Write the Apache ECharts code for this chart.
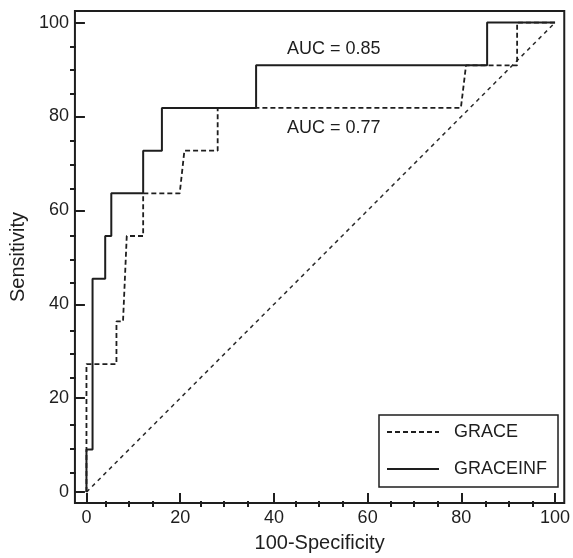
<!DOCTYPE html>
<html>
<head>
<meta charset="utf-8">
<script src="https://cdn.jsdelivr.net/npm/echarts@6/dist/echarts.min.js"></script>
<style>
  html, body { margin: 0; padding: 0; background: #fff; }
  #chart { width: 573px; height: 558px; }
</style>
</head>
<body>
<div id="chart"></div>
<script>
// ---- data ----
const graceInfX = [0, 0, 1.3, 1.3, 4.0, 4.0, 5.3, 5.3, 12.1, 12.1, 16.1, 16.1, 36.2, 36.2, 85.5, 85.5, 100];
const graceInfY = [0, 9.09, 9.09, 45.45, 45.45, 54.55, 54.55, 63.64, 63.64, 72.73, 72.73, 81.82, 81.82, 90.91, 90.91, 100, 100];
const graceX = [0, 0, 6.4, 6.4, 7.8, 8.6, 12.1, 12.1, 19.9, 20.9, 28.0, 28.0, 79.9, 81.0, 91.9, 91.9, 100];
const graceY = [0, 27.27, 27.27, 36.36, 36.36, 54.55, 54.55, 63.64, 63.64, 72.73, 72.73, 81.82, 81.82, 90.91, 90.91, 100, 100];
const refX = [0, 100];
const refY = [0, 100];
const seriesNames = ['GRACE', 'GRACEINF'];
const aucText = ['AUC = 0.85', 'AUC = 0.77'];
const aucX = [42.8, 42.8];
const aucY = [94.4, 77.5];
const majorTicks = [0, 20, 40, 60, 80, 100];
const minorTicks = [5, 10, 15, 25, 30, 35, 45, 50, 55, 65, 70, 75, 85, 90, 95];
const xRange = [-2.46, 101.96];
const yRange = [-2.32, 102.47];
const xName = '100-Specificity';
const yName = 'Sensitivity';

// ---- chart ----
const FONT = '"Liberation Sans", Arial, Helvetica, sans-serif';
const INK = '#1e1e1e';
const zip = (xs, ys) => xs.map((x, i) => [x, ys[i]]);

const gridRect = { left: 70, right: 7, top: 11, bottom: 51 };

function majorAxis(range, name, isX) {
  return {
    type: 'value', gridIndex: 0, min: range[0], max: range[1],
    axisLine: { show: false, onZero: false },
    splitLine: { show: false },
    axisTick: { show: true, inside: true, length: 10, customValues: majorTicks,
      lineStyle: { color: INK, width: 2 } },
    axisLabel: { show: true, customValues: majorTicks, fontSize: 18, color: INK,
      fontFamily: FONT, margin: 6 },
    name: name, nameLocation: 'middle', nameGap: isX ? 30 : 43,
    nameTextStyle: { fontSize: 20, color: INK, fontFamily: FONT }
  };
}
function minorAxis(range) {
  return {
    type: 'value', gridIndex: 1, min: range[0], max: range[1],
    axisLine: { show: false, onZero: false },
    splitLine: { show: false },
    axisTick: { show: true, inside: true, length: 6, customValues: minorTicks,
      lineStyle: { color: INK, width: 2 } },
    axisLabel: { show: false }
  };
}

const chart = echarts.init(document.getElementById('chart'), null, { renderer: 'canvas' });
chart.setOption({
  animation: false,
  backgroundColor: '#fff',
  textStyle: { fontFamily: FONT },
  grid: [
    Object.assign({ show: true, borderColor: INK, borderWidth: 2, backgroundColor: 'transparent' }, gridRect),
    Object.assign({ show: false }, gridRect)
  ],
  xAxis: [majorAxis(xRange, xName, true), minorAxis(xRange)],
  yAxis: [majorAxis(yRange, yName, false), minorAxis(yRange)],
  legend: {
    data: seriesNames,
    orient: 'vertical',
    left: 379, top: 415,
    padding: [7, 11, 8, 7],
    itemGap: 17,
    itemWidth: 52, itemHeight: 14,
    borderColor: INK, borderWidth: 1.5,
    backgroundColor: '#fff',
    selectedMode: false,
    itemStyle: { opacity: 0 },
    textStyle: { fontSize: 18, color: INK, fontFamily: FONT, lineHeight: 20, padding: [0, 0, 0, 10] }
  },
  series: [
    {
      name: 'reference', type: 'line', xAxisIndex: 0, yAxisIndex: 0,
      data: zip(refX, refY), symbol: 'none', silent: true,
      lineStyle: { color: '#2a2a2a', width: 1.5, type: [4, 4] }
    },
    {
      name: seriesNames[0], type: 'line', xAxisIndex: 0, yAxisIndex: 0,
      data: zip(graceX, graceY), symbol: 'none',
      lineStyle: { color: INK, width: 1.8, type: [5, 3] },
      itemStyle: { color: INK }
    },
    {
      name: seriesNames[1], type: 'line', xAxisIndex: 0, yAxisIndex: 0,
      data: zip(graceInfX, graceInfY), symbol: 'none',
      lineStyle: { color: INK, width: 2, type: 'solid' },
      itemStyle: { color: INK }
    },
    {
      name: 'auc', type: 'scatter', xAxisIndex: 0, yAxisIndex: 0,
      data: aucText.map((t, i) => ({ value: [aucX[i], aucY[i]], name: t })),
      symbolSize: 0, silent: true,
      itemStyle: { opacity: 1 },
      label: { show: true, position: 'right', distance: 0, formatter: p => p.name,
        fontSize: 18, color: INK, fontFamily: FONT }
    }
  ]
});
</script>
</body>
</html>
